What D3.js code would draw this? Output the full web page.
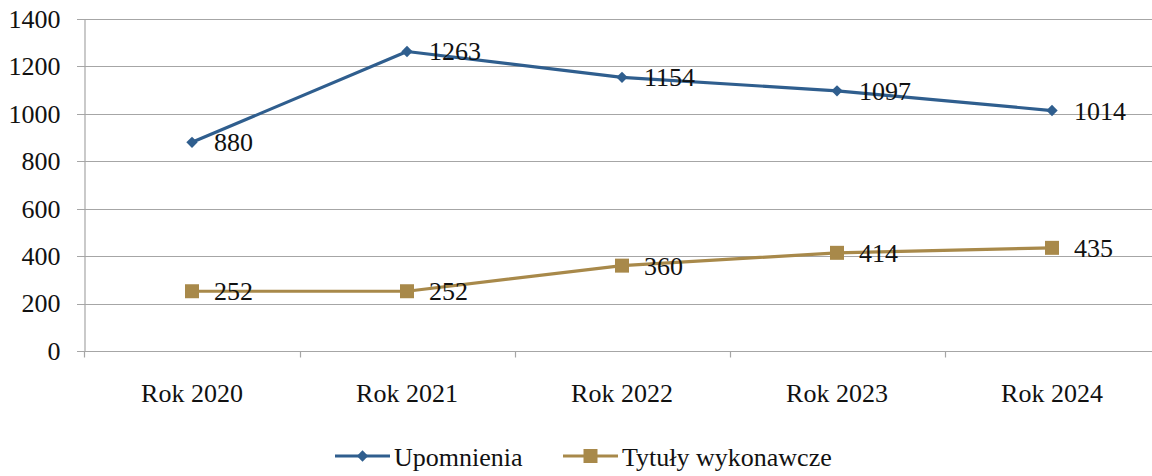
<!DOCTYPE html>
<html>
<head>
<meta charset="utf-8">
<script src="https://cdn.jsdelivr.net/npm/d3@7"></script>
</head>
<body style="margin:0">
<svg id="chart" width="1152" height="476"></svg>
<script>
// Data
const categories = ["Rok 2020", "Rok 2021", "Rok 2022", "Rok 2023", "Rok 2024"];
const upomnienia = [880, 1263, 1154, 1097, 1014];
const tytuly = [252, 252, 360, 414, 435];
const yTicks = [0, 200, 400, 600, 800, 1000, 1200, 1400];
const seriesNames = ["Upomnienia", "Tytuły wykonawcze"];

const colors = ["#2f5e8e", "#a8894a"];
const svg = d3.select("#chart");

const x = d3.scaleBand().domain(categories).range([84.5, 1159.5]).padding(0);
const y = d3.scaleLinear().domain([0, 1400]).range([351, 19]);
const cx = d => x(d) + x.bandwidth() / 2;

// Shared text styling
function label(sel) {
  return sel
    .style("font-family", "'Liberation Serif'")
    .attr("font-size", 26)
    .attr("fill", "#111");
}

const diamond = d3.symbol().type(d3.symbolDiamond2).size(82);
const square = d3.symbol().type(d3.symbolSquare).size(196);

// Gridlines
svg.append("g")
  .selectAll("line")
  .data(yTicks)
  .join("line")
  .attr("x1", 77).attr("x2", 1160)
  .attr("y1", d => Math.round(y(d)) + 0.5)
  .attr("y2", d => Math.round(y(d)) + 0.5)
  .attr("stroke", "#a6a6a6").attr("stroke-width", 1.2);

// Y axis
const yAxis = svg.append("g")
  .attr("transform", "translate(84.5,0)")
  .call(d3.axisLeft(y).tickValues(yTicks).tickFormat(d3.format("d")).tickSize(0).tickPadding(24));
yAxis.attr("font-family", null).attr("font-size", null);
yAxis.select(".domain").attr("stroke", "#a6a6a6").attr("stroke-width", 1.2);
label(yAxis.selectAll("text"));

// X axis: tick marks at category boundaries
const xAxis = svg.append("g")
  .attr("transform", `translate(0,${Math.round(y(0)) + 0.5})`);
xAxis.selectAll("line.tick")
  .data(categories.slice(1))
  .join("line")
  .attr("class", "tick")
  .attr("x1", d => Math.round(x(d)) + 0.5).attr("x2", d => Math.round(x(d)) + 0.5)
  .attr("y1", 0).attr("y2", 6)
  .attr("stroke", "#a6a6a6").attr("stroke-width", 1.2);
xAxis.append("line")
  .attr("x1", 84.5).attr("x2", 84.5).attr("y1", 0).attr("y2", 6)
  .attr("stroke", "#a6a6a6").attr("stroke-width", 1.2);
label(xAxis.selectAll("text")
  .data(categories)
  .join("text")
  .attr("x", d => cx(d))
  .attr("y", 50)
  .attr("text-anchor", "middle"))
  .text(d => d);

// Series
const series = [upomnienia, tytuly];
const line = d3.line().x((d, i) => cx(categories[i])).y(d => y(d));

series.forEach((vals, si) => {
  const g = svg.append("g");
  g.append("path")
    .datum(vals)
    .attr("d", line)
    .attr("fill", "none")
    .attr("stroke", colors[si])
    .attr("stroke-width", 3.2)
    .attr("stroke-linejoin", "round");

  g.selectAll("path.marker")
    .data(vals)
    .join("path")
    .attr("class", "marker")
    .attr("d", si === 0 ? diamond : square)
    .attr("transform", (d, i) => `translate(${cx(categories[i])},${y(d)})`)
    .attr("fill", colors[si]);

  label(g.selectAll("text")
    .data(vals)
    .join("text")
    .attr("x", (d, i) => cx(categories[i]) + 22)
    .attr("y", d => y(d) + 9))
    .text(d => d);
});

// Legend
const legend = svg.append("g").attr("transform", "translate(0,456)");
const legendItems = [
  { name: seriesNames[0], x0: 335, color: colors[0], sym: diamond },
  { name: seriesNames[1], x0: 563, color: colors[1], sym: square }
];
legendItems.forEach(it => {
  legend.append("line")
    .attr("x1", it.x0).attr("x2", it.x0 + 55)
    .attr("y1", 0).attr("y2", 0)
    .attr("stroke", it.color).attr("stroke-width", 3.2);
  legend.append("path")
    .attr("d", it.sym)
    .attr("transform", `translate(${it.x0 + 27.5},0)`)
    .attr("fill", it.color);
  label(legend.append("text")
    .attr("x", it.x0 + 59)
    .attr("y", 10))
    .text(it.name);
});
</script>
</body>
</html>
